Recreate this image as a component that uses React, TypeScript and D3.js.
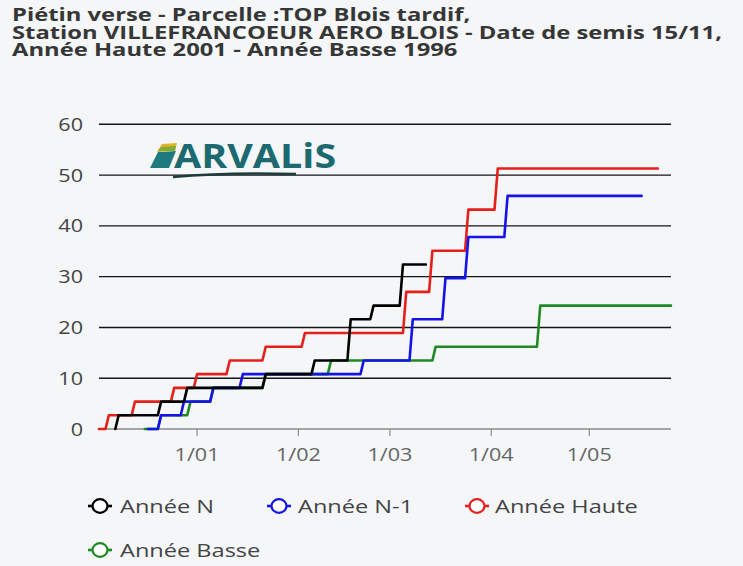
import React from "react";
import * as d3 from "d3";

const TITLE_LINES = [
  "Piétin verse - Parcelle :TOP Blois tardif,",
  "Station VILLEFRANCOEUR AERO BLOIS - Date de semis 15/11,",
  "Année Haute 2001 - Année Basse 1996",
];
const Y_TICKS = [0, 10, 20, 30, 40, 50, 60];
const X_TICK_DATES = ["2025-01-01", "2025-02-01", "2025-03-01", "2025-04-01", "2025-05-01"];
const X_TICK_LABELS = ["1/01", "1/02", "1/03", "1/04", "1/05"];
const X_DOMAIN = ["2024-12-02", "2025-05-26"];

const SERIES_NAMES = ["Année N", "Année N-1", "Année Haute", "Année Basse"];
const SERIES_COLORS = ["#000000", "#1414e8", "#e5201b", "#1f8a24"];

type Pt = [string, number];

const ANNEE_N: Pt[] = [
  ["2024-12-07", 0], ["2024-12-08", 2.7], ["2024-12-20", 2.7], ["2024-12-21", 5.4],
  ["2024-12-28", 5.4], ["2024-12-29", 8.1], ["2025-01-21", 8.1], ["2025-01-22", 10.8],
  ["2025-02-05", 10.8], ["2025-02-06", 13.5], ["2025-02-16", 13.5], ["2025-02-17", 21.6],
  ["2025-02-23", 21.6], ["2025-02-24", 24.3], ["2025-03-04", 24.3], ["2025-03-05", 32.4],
  ["2025-03-12", 32.4],
];

const ANNEE_N1: Pt[] = [
  ["2024-12-17", 0], ["2024-12-20", 0], ["2024-12-21", 2.7], ["2024-12-27", 2.7],
  ["2024-12-28", 5.4], ["2025-01-05", 5.4], ["2025-01-06", 8.1], ["2025-01-14", 8.1],
  ["2025-01-15", 10.8], ["2025-02-20", 10.8], ["2025-02-21", 13.5], ["2025-03-07", 13.5],
  ["2025-03-08", 21.6], ["2025-03-17", 21.6], ["2025-03-18", 29.7], ["2025-03-24", 29.7],
  ["2025-03-25", 37.8], ["2025-04-05", 37.8], ["2025-04-06", 45.9], ["2025-05-17", 45.9],
];

const ANNEE_HAUTE: Pt[] = [
  ["2024-12-02", 0], ["2024-12-04", 0], ["2024-12-05", 2.7], ["2024-12-12", 2.7],
  ["2024-12-13", 5.4], ["2024-12-24", 5.4], ["2024-12-25", 8.1], ["2024-12-31", 8.1],
  ["2025-01-01", 10.8], ["2025-01-10", 10.8], ["2025-01-11", 13.5], ["2025-01-21", 13.5],
  ["2025-01-22", 16.2], ["2025-02-02", 16.2], ["2025-02-03", 18.9], ["2025-03-05", 18.9],
  ["2025-03-06", 27], ["2025-03-13", 27], ["2025-03-14", 35.1], ["2025-03-24", 35.1],
  ["2025-03-25", 43.2], ["2025-04-02", 43.2], ["2025-04-03", 51.3], ["2025-05-22", 51.3],
];

const ANNEE_BASSE: Pt[] = [
  ["2024-12-16", 0], ["2024-12-20", 0], ["2024-12-21", 2.7], ["2024-12-29", 2.7],
  ["2024-12-30", 5.4], ["2025-01-05", 5.4], ["2025-01-06", 8.1], ["2025-01-21", 8.1],
  ["2025-01-22", 10.8], ["2025-02-10", 10.8], ["2025-02-11", 13.5], ["2025-03-14", 13.5],
  ["2025-03-15", 16.2], ["2025-04-15", 16.2], ["2025-04-16", 24.3], ["2025-05-26", 24.3],
];

const SERIES_DATA = [ANNEE_N, ANNEE_N1, ANNEE_HAUTE, ANNEE_BASSE];

const W = 743;
const H = 566;
const SX = 1.2; // horizontal stretch of the text in the picture
const FONT = "'Open Sans', 'Noto Sans', sans-serif";

const parse = d3.timeParse("%Y-%m-%d");

function Txt(props: {
  x: number; y: number; children: any; size: number; fill: string;
  weight?: number | string; anchor?: string; sx?: number; family?: string;
}) {
  const { x, y, children, size, fill, weight = 400, anchor = "start", sx = SX, family = FONT } = props;
  return (
    <g transform={`translate(${x},${y}) scale(${sx},1)`}>
      <text x={0} y={0} fontSize={size} fill={fill} fontWeight={weight}
        textAnchor={anchor} fontFamily={family}>{children}</text>
    </g>
  );
}

export default function App() {
  const x = d3.scaleTime()
    .domain([parse(X_DOMAIN[0])!, parse(X_DOMAIN[1])!])
    .range([99, 671]);
  const y = d3.scaleLinear().domain([0, 60]).range([429, 124.3]);

  const line = d3.line<Pt>()
    .x((d) => x(parse(d[0])!))
    .y((d) => y(d[1]));

  const drawOrder = [3, 2, 1, 0];

  const legendItems = [
    { i: 0, sx: 100, tx: 120, ly: 506 },
    { i: 1, sx: 279, tx: 298, ly: 506 },
    { i: 2, sx: 477, tx: 495, ly: 506 },
    { i: 3, sx: 100, tx: 120, ly: 550 },
  ];

  return (
    <svg width={W} height={H} style={{ position: "absolute", left: 0, top: 0 }}
      xmlns="http://www.w3.org/2000/svg">
      <rect x={0} y={0} width={W} height={H} fill="#f4f6f8" />

      {TITLE_LINES.map((t, i) => (
        <Txt key={i} x={12} y={21 + i * 17.5} size={18.5} fill="#363636" weight={700} sx={1.285}>{t}</Txt>
      ))}

      {/* grid lines */}
      {Y_TICKS.filter((v) => v > 0).map((v) => (
        <line key={v} x1={99} x2={671} y1={y(v)} y2={y(v)} stroke="#151515" strokeWidth={1.4} />
      ))}
      {/* x axis */}
      <line x1={99} x2={671} y1={y(0)} y2={y(0)} stroke="#8a8a8a" strokeWidth={1.4} />
      {X_TICK_DATES.map((d, i) => {
        const px = x(parse(d)!);
        return (
          <g key={d}>
            <line x1={px} x2={px} y1={y(0)} y2={y(0) + 7} stroke="#8a8a8a" strokeWidth={1.2} />
            <Txt x={px} y={461} size={18} fill="#666" anchor="middle">{X_TICK_LABELS[i]}</Txt>
          </g>
        );
      })}
      {Y_TICKS.map((v) => (
        <Txt key={v} x={83} y={y(v) + 6.5} size={18} fill="#444" anchor="end">{String(v)}</Txt>
      ))}

      {/* logo */}
      <g>
        <path d="M150,168 L158,152 L176,151 L169,168 Z" fill="#1f7a80" />
        <path d="M157,152 L162,144 L177,143 L175,151 Z" fill="#e3b323" />
        <path d="M158,151 L161,147 L176,146 L175,151 Z" fill="#7fae3a" />
        <Txt x={174} y={168} size={34} fill="#1c6a70" weight={700} sx={1.16}>ARVALiS</Txt>
        <path d="M173,177 Q225,172 296,174" stroke="#1e3b3e" strokeWidth={2.4} fill="none" />
      </g>

      {/* series */}
      {drawOrder.map((i) => (
        <path key={i} d={line(SERIES_DATA[i]) || ""} fill="none" stroke={SERIES_COLORS[i]}
          strokeWidth={2.6} strokeLinejoin="round" strokeLinecap="round" />
      ))}

      {/* legend */}
      {legendItems.map((it) => (
        <g key={it.i}>
          <line x1={it.sx - 12} x2={it.sx + 12} y1={it.ly} y2={it.ly}
            stroke={SERIES_COLORS[it.i]} strokeWidth={2.6} />
          <ellipse cx={it.sx} cy={it.ly} rx={7.5} ry={6.8} fill="#fff"
            stroke={SERIES_COLORS[it.i]} strokeWidth={2.2} />
          <Txt x={it.tx} y={it.ly + 7} size={19} fill="#444" sx={1.24}>{SERIES_NAMES[it.i]}</Txt>
        </g>
      ))}
    </svg>
  );
}
